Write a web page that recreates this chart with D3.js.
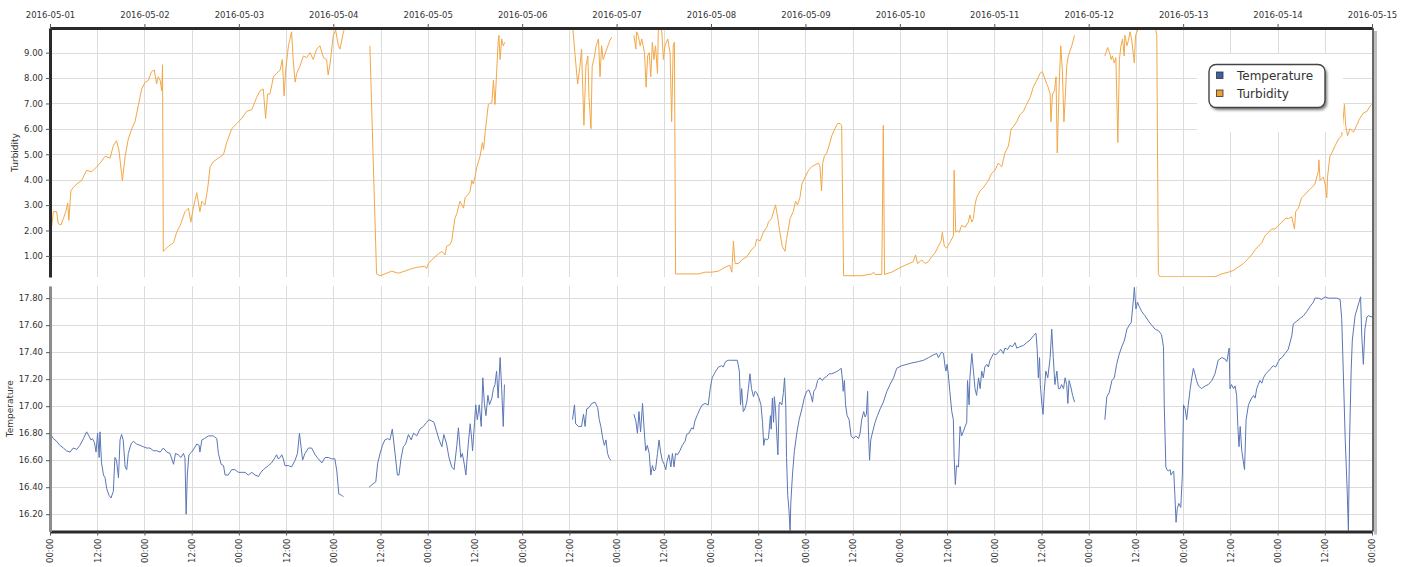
<!DOCTYPE html>
<html>
<head>
<meta charset="utf-8">
<script src="https://cdn.jsdelivr.net/npm/d3@7"></script>
<style>
  body { margin: 0; background: #fff; }
  svg text { font-family: "DejaVu Sans", sans-serif; fill: #333; }
</style>
</head>
<body>
<script>
// hours after 2016-05-01 00:00, value ; null = gap in the record
const turbidity = [
  [0.25,1.93],[0.85,2.74],[1.7,2.74],[2.1,2.27],[2.8,2.22],[3.4,2.47],[4.0,2.74],[4.5,3.08],[4.8,2.40],[5.3,3.56],
  [5.9,3.69],[6.8,3.83],[8.05,3.97],[9.3,4.37],[10.6,4.31],[11.9,4.51],[12.7,4.65],[14.0,4.92],[15.25,4.85],[16.1,5.33],
  [16.9,5.53],[17.5,5.19],[18.4,3.96],[19.1,4.92],[19.9,5.60],[20.8,6.01],[21.6,6.28],[22.5,6.96],[23.3,7.57],[24.2,7.84],
  [25.0,7.91],[25.8,8.25],[26.5,8.32],[27.1,7.77],[27.5,8.05],[28.0,7.91],[28.4,7.50],[28.6,8.52],[28.8,1.18],[29.2,1.24],
  [30.1,1.38],[31.4,1.52],[32.2,1.93],[33.1,2.20],[34.3,2.74],[35.2,2.88],[35.8,2.33],[36.4,2.88],[37.3,3.49],[38.1,2.74],
  [38.6,3.15],[39.4,3.01],[40.1,3.69],[40.7,4.51],[41.5,4.71],[42.8,4.85],[44.1,4.99],[44.9,5.46],[46.2,6.01],[47.5,6.21],
  [48.7,6.41],[50.0,6.69],[51.3,6.76],[52.5,7.23],[53.4,7.50],[54.2,7.57],[54.8,6.41],[55.3,7.37],[55.9,7.37],[56.8,8.05],
  [57.6,8.18],[58.5,8.32],[59.05,8.73],[59.5,7.30],[59.9,8.32],[60.6,9.27],[61.0,9.54],[61.4,9.82],[61.8,8.73],[62.3,7.84],
  [62.7,8.18],[63.5,8.46],[64.4,8.87],[65.2,8.80],[66.1,9.00],[66.9,8.73],[67.8,9.14],[68.6,9.27],[69.5,8.80],[70.3,8.73],
  [70.7,8.12],[71.2,8.59],[72.0,9.68],[72.6,9.88],[73.3,9.27],[73.7,9.14],[74.6,9.82],[75.0,10.02],
  null,
  [81.3,9.27],[83.0,0.29],[83.9,0.22],[85.1,0.29],[86.8,0.40],[88.5,0.32],[90.2,0.40],[91.9,0.50],[93.6,0.56],[95.3,0.59],
  [95.7,0.50],[96.2,0.70],[97.0,0.84],[98.7,1.08],[99.6,1.18],[100.4,1.04],[100.8,1.38],[101.7,1.45],[102.1,1.59],[102.9,2.47],
  [103.4,2.67],[104.2,3.15],[105.1,2.88],[105.5,3.29],[106.3,3.42],[106.8,3.56],[107.2,3.97],[107.6,3.83],[108.0,4.10],[108.5,4.51],
  [109.3,4.92],[109.9,5.46],[110.2,5.19],[110.6,5.87],[111.0,6.41],[111.4,6.96],[111.8,7.00],[112.3,7.03],[112.7,7.91],[113.1,6.96],
  [113.5,8.18],[113.9,9.41],[114.1,9.68],[114.4,8.73],[114.8,9.54],[115.2,9.27],[115.6,9.41],
  null,
  [132.8,10.09],[133.4,9.00],[134.1,7.77],[134.7,8.46],[135.1,9.14],[135.7,6.14],[136.2,8.46],[136.7,8.87],[137.0,7.23],[137.5,6.01],
  [137.8,8.46],[138.4,8.87],[138.8,9.27],[139.4,9.54],[139.8,8.05],[140.2,9.27],[140.6,8.73],[141.5,9.14],[142.3,9.48],[142.8,9.61],
  null,
  [148.4,9.68],[148.9,9.14],[149.1,9.82],[149.5,9.68],[150.0,9.27],[150.4,9.54],[151.1,9.00],[151.5,7.64],[151.9,8.87],[152.3,9.00],
  [152.7,8.05],[153.1,9.41],[153.5,8.73],[153.9,9.27],[154.4,8.18],[154.6,9.82],[155.0,10.09],[155.5,9.82],[155.9,8.73],[156.3,9.27],
  [157.0,9.54],[157.6,9.00],[158.0,6.28],[158.4,9.27],[158.7,9.41],[159.0,0.29],[161.4,0.29],[164.8,0.29],[166.5,0.36],[168.2,0.36],
  [169.9,0.40],[171.6,0.56],[172.8,0.63],[173.3,0.36],[173.7,1.59],[174.1,0.70],[175.0,0.70],[175.8,0.84],[177.1,0.97],[178.3,1.24],
  [179.2,1.38],[179.6,1.65],[180.5,1.59],[181.3,1.93],[182.2,2.13],[182.6,2.33],[183.4,2.47],[184.4,3.01],[185.0,2.47],[185.5,1.93],
  [186.1,1.38],[186.8,1.18],[187.2,1.65],[188.1,2.47],[188.9,2.74],[189.5,3.15],[190.0,3.01],[190.6,3.29],[191.1,3.83],[191.9,4.10],
  [192.8,4.37],[193.6,4.51],[194.4,4.58],[195.3,4.65],[195.7,4.51],[196.1,3.56],[196.4,4.65],[196.8,4.92],[197.4,5.05],[198.0,5.33],
  [198.7,5.73],[199.5,6.01],[200.2,6.21],[200.8,6.21],[201.2,6.14],[201.7,0.22],[206.3,0.22],[208.9,0.29],[209.3,0.36],[209.7,0.27],
  [211.4,0.27],[211.8,6.14],[212.1,0.27],[213.9,0.36],[215.6,0.50],[217.3,0.63],[219.4,0.77],[220.0,1.04],[220.5,0.70],[221.6,0.84],
  [222.4,0.70],[223.2,0.77],[224.1,0.97],[224.9,1.11],[225.8,1.38],[226.5,1.59],[226.8,1.93],[227.3,1.38],[227.9,1.31],[228.7,1.52],
  [229.6,1.79],[229.8,4.37],[230.2,1.93],[230.6,1.99],[231.1,1.93],[231.7,2.20],[232.6,2.13],[233.4,2.33],[233.8,2.61],[234.3,2.33],
  [234.7,2.47],[235.1,3.01],[235.5,3.29],[236.4,3.56],[237.2,3.69],[238.5,3.97],[239.3,4.24],[240.2,4.37],[241.0,4.65],[241.9,4.51],
  [242.3,4.78],[242.7,5.05],[243.6,5.33],[244.3,6.01],[244.8,6.07],[245.7,6.28],[246.5,6.55],[247.4,6.69],[248.2,6.96],[249.1,7.23],
  [249.9,7.64],[250.8,7.91],[251.6,8.18],[252.2,8.25],[252.7,8.05],[253.3,7.77],[253.7,7.64],[254.2,7.37],[254.4,6.28],[254.8,7.37],
  [255.3,7.50],[255.7,8.05],[256.0,5.05],[256.5,7.77],[256.9,9.27],[257.3,8.32],[257.7,6.28],[258.0,7.10],[258.4,8.46],[258.8,8.87],
  [259.7,9.27],[260.4,9.68],
  null,
  [268.1,8.87],[268.8,9.20],[269.3,9.00],[269.7,8.73],[270.0,8.87],[270.5,8.59],[270.9,8.80],[271.4,5.46],[271.8,8.73],[272.2,9.27],
  [272.6,9.54],[273.0,8.87],[273.2,9.68],[273.7,9.27],[274.1,9.48],[274.5,9.82],[274.9,9.54],[275.6,8.59],[275.9,9.68],[276.6,9.95],
  [277.5,10.02],[279.6,10.02],[280.9,10.02],[281.3,9.68],[281.7,0.29],[282.1,0.18],[286.8,0.18],[291.0,0.18],[296.1,0.18],[297.8,0.29],
  [299.5,0.36],[300.8,0.43],[302.0,0.56],[303.3,0.70],[304.6,0.90],[305.4,1.04],[306.3,1.24],[307.1,1.38],[308.0,1.52],[308.8,1.79],
  [309.7,1.93],[310.5,2.06],[311.4,2.06],[312.2,2.20],[313.1,2.33],[313.9,2.47],[314.8,2.47],[315.6,2.54],[316.3,2.06],[316.6,2.74],
  [317.3,2.88],[318.1,3.29],[319.0,3.42],[319.8,3.56],[320.7,3.69],[321.5,3.83],[322.4,4.37],[322.5,4.78],[322.8,3.97],[323.6,4.10],
  [324.1,3.83],[324.5,3.29],[324.7,4.10],[325.3,4.92],[325.8,5.05],[326.6,5.33],[327.5,5.60],[328.3,5.73],[329.0,6.96],[329.3,6.14],
  [329.8,5.73],[330.4,6.01],[331.3,5.87],[332.1,6.14],[332.9,6.41],[333.8,6.62],[334.7,6.69],[335.5,6.89],[335.9,6.96]
];

const temperature = [
  [0,16.80],[0.85,16.76],[1.7,16.74],[2.5,16.71],[3.4,16.69],[4.2,16.67],[5.1,16.66],[5.9,16.69],[6.8,16.68],[7.6,16.71],
  [8.5,16.76],[9.3,16.81],[9.9,16.78],[10.4,16.75],[10.8,16.76],[11.3,16.73],[11.7,16.66],[12.1,16.80],[12.5,16.62],[12.7,16.81],
  [13.1,16.58],[13.6,16.49],[14.0,16.47],[14.4,16.39],[15.0,16.34],[15.5,16.32],[16.1,16.37],[16.5,16.62],[16.9,16.60],[17.4,16.47],
  [17.8,16.75],[18.2,16.79],[18.6,16.75],[19.1,16.55],[19.5,16.53],[19.9,16.65],[20.6,16.72],[21.2,16.74],[22.0,16.72],[22.9,16.71],
  [23.7,16.70],[24.6,16.69],[25.4,16.69],[26.3,16.67],[27.1,16.67],[28.0,16.66],[28.8,16.69],[29.7,16.66],[30.5,16.65],[31.4,16.57],
  [31.9,16.65],[32.6,16.64],[33.3,16.62],[33.9,16.65],[34.3,16.62],[34.6,16.20],[34.9,16.49],[35.3,16.64],[36.0,16.66],[36.7,16.69],
  [37.3,16.72],[37.9,16.71],[38.1,16.66],[38.6,16.75],[39.2,16.76],[40.3,16.78],[41.5,16.78],[42.4,16.76],[42.8,16.65],[43.5,16.57],
  [44.1,16.56],[44.5,16.49],[45.3,16.49],[46.2,16.53],[47.0,16.53],[47.9,16.51],[48.7,16.51],[49.6,16.51],[50.4,16.49],[51.3,16.51],
  [52.1,16.49],[53.0,16.48],[53.6,16.51],[54.2,16.53],[55.5,16.56],[56.3,16.58],[57.2,16.62],[57.6,16.64],[58.0,16.61],[58.5,16.62],
  [58.9,16.64],[59.3,16.61],[59.7,16.56],[60.6,16.56],[61.4,16.55],[62.3,16.60],[62.9,16.65],[63.4,16.80],[63.8,16.70],[64.2,16.60],
  [64.8,16.65],[65.7,16.69],[66.5,16.69],[67.4,16.64],[68.2,16.61],[69.1,16.58],[69.9,16.62],[70.7,16.62],[71.6,16.61],[72.4,16.61],
  [72.9,16.52],[73.4,16.35],[74.1,16.34],[74.6,16.33],
  null,
  [81.1,16.40],[81.9,16.42],[82.8,16.44],[83.3,16.58],[83.9,16.65],[84.5,16.71],[85.1,16.75],[85.8,16.76],[86.4,16.75],[87.0,16.83],
  [87.7,16.65],[88.3,16.49],[88.7,16.49],[89.2,16.61],[89.8,16.70],[90.4,16.72],[91.1,16.79],[91.8,16.75],[92.4,16.80],[93.2,16.78],
  [94.0,16.83],[94.9,16.85],[95.7,16.88],[96.3,16.90],[97.0,16.89],[97.6,16.88],[98.3,16.81],[98.9,16.75],[99.6,16.70],[100.1,16.79],
  [100.8,16.72],[101.4,16.62],[102.1,16.55],[102.7,16.53],[103.4,16.71],[103.8,16.84],[104.4,16.62],[104.8,16.65],[105.3,16.57],[105.7,16.49],
  [106.3,16.72],[106.8,16.87],[107.2,16.75],[107.4,16.67],[107.9,16.88],[108.2,17.01],[108.6,16.90],[109.1,17.01],[109.6,16.85],[110.0,17.21],
  [110.4,17.02],[110.8,16.93],[111.3,17.08],[111.7,17.01],[112.3,17.06],[112.7,17.13],[113.1,17.16],[113.5,17.26],[113.9,17.06],[114.4,17.36],
  [114.8,17.13],[115.2,16.85],[115.5,17.16],
  null,
  [132.8,16.90],[133.3,17.01],[133.6,16.87],[134.3,16.85],[135.1,16.85],[135.6,16.94],[136.0,16.85],[136.4,16.98],[137.0,16.99],[137.7,17.02],
  [138.5,17.03],[139.2,16.99],[139.6,16.90],[140.0,16.85],[140.5,16.76],[140.9,16.71],[141.3,16.75],[141.7,16.65],[142.2,16.61],[142.6,16.60],
  null,
  [148.4,16.94],[148.9,16.89],[149.3,16.80],[149.7,16.96],[150.1,16.81],[150.6,17.02],[151.0,16.83],[151.4,16.67],[151.8,16.71],[152.3,16.65],
  [152.7,16.49],[153.1,16.56],[153.5,16.52],[153.9,16.53],[154.4,16.65],[154.8,16.75],[155.2,16.66],[155.6,16.60],[156.1,16.57],[156.5,16.53],
  [156.9,16.60],[157.3,16.64],[157.8,16.55],[158.2,16.65],[158.6,16.55],[159.0,16.65],[159.5,16.64],[160.1,16.67],[160.7,16.71],[161.4,16.74],
  [161.8,16.79],[162.4,16.80],[163.1,16.84],[163.5,16.83],[163.9,16.89],[164.6,16.94],[165.2,16.98],[165.8,17.01],[166.5,17.02],[167.3,17.01],
  [167.8,17.13],[168.3,17.21],[169.0,17.25],[169.9,17.29],[170.7,17.30],[171.1,17.29],[171.7,17.33],[172.4,17.34],[173.3,17.34],[174.1,17.34],
  [174.7,17.34],[175.2,17.26],[175.5,17.01],[175.8,17.13],[176.2,16.96],[176.6,16.98],[177.1,17.03],[177.5,17.13],[177.9,17.24],[178.3,17.13],
  [178.8,17.07],[179.2,17.11],[179.6,17.10],[180.2,17.06],[180.7,17.01],[181.1,16.88],[181.4,16.71],[181.7,16.76],[182.2,16.75],[182.6,16.76],
  [183.1,16.93],[183.3,16.83],[183.6,17.06],[183.9,16.88],[184.1,17.07],[184.4,16.98],[184.7,16.80],[185.0,16.64],[185.3,17.01],[185.5,17.03],
  [186.0,17.01],[186.4,17.10],[186.7,17.21],[187.0,17.01],[187.2,16.62],[187.5,16.34],[187.8,16.24],[188.1,16.08],[188.3,16.29],[188.7,16.49],
  [189.2,16.67],[189.8,16.80],[190.4,16.90],[191.1,16.98],[191.7,17.06],[192.3,17.11],[192.9,17.12],[193.4,17.08],[193.8,17.03],[194.1,17.11],
  [194.6,17.13],[195.1,17.19],[195.7,17.21],[196.3,17.19],[196.8,17.21],[197.4,17.22],[198.0,17.24],[198.7,17.24],[199.5,17.25],[200.2,17.26],
  [201.1,17.28],[201.4,17.20],[201.6,17.11],[201.9,17.19],[202.2,17.01],[202.6,16.93],[203.1,16.90],[203.6,16.78],[204.2,16.76],[204.8,16.78],
  [205.5,16.76],[205.9,16.80],[206.3,16.90],[206.8,16.96],[207.2,16.92],[207.5,16.94],[207.8,17.11],[208.0,16.83],[208.3,16.60],[208.6,16.75],
  [209.0,16.80],[209.7,16.88],[210.3,16.93],[211.0,16.98],[211.8,17.03],[212.7,17.11],[213.5,17.16],[214.4,17.21],[215.2,17.28],[216.5,17.30],
  [217.8,17.31],[219.0,17.32],[220.7,17.33],[222.0,17.34],[223.3,17.36],[224.5,17.38],[225.4,17.39],[225.8,17.36],[226.2,17.38],[226.6,17.40],
  [227.1,17.39],[227.5,17.29],[227.7,17.26],[228.0,17.31],[228.3,17.24],[228.7,17.11],[229.2,16.96],[229.6,16.90],[229.8,16.62],[230.1,16.42],
  [230.4,16.56],[230.9,16.55],[231.3,16.85],[231.7,16.78],[232.1,16.81],[232.6,16.85],[233.0,16.88],[233.2,17.19],[233.6,17.01],[233.8,17.21],
  [234.3,17.39],[234.7,17.26],[235.1,17.13],[235.5,17.08],[236.0,17.21],[236.4,17.13],[236.8,17.26],[237.2,17.21],[237.6,17.29],[238.1,17.31],
  [238.5,17.29],[238.9,17.34],[239.8,17.39],[240.4,17.38],[241.0,17.40],[241.7,17.42],[242.3,17.39],[242.7,17.43],[243.4,17.42],[244.0,17.45],
  [244.6,17.44],[245.3,17.47],[245.7,17.43],[246.5,17.44],[247.4,17.45],[248.2,17.47],[249.1,17.49],[249.9,17.52],[250.6,17.54],[250.9,17.42],
  [251.2,17.21],[251.5,17.36],[251.7,17.16],[252.1,17.01],[252.4,16.94],[252.7,17.11],[253.1,17.26],[253.6,17.21],[254.2,17.36],[254.6,17.57],
  [255.0,17.36],[255.4,17.16],[255.9,17.26],[256.3,17.13],[256.7,17.13],[257.1,17.16],[257.6,17.13],[258.0,17.21],[258.4,17.16],[258.7,17.02],
  [259.0,17.19],[259.4,17.15],[259.9,17.08],[260.4,17.03],
  null,
  [268.1,16.90],[268.6,17.07],[269.2,17.10],[269.9,17.19],[270.5,17.21],[271.1,17.31],[271.7,17.38],[272.4,17.44],[273.1,17.49],[273.7,17.57],
  [274.3,17.60],[274.8,17.62],[275.4,17.80],[275.6,17.88],[276.0,17.72],[276.4,17.77],[276.8,17.74],[277.5,17.70],[278.3,17.67],[279.2,17.63],
  [280.0,17.60],[280.9,17.57],[281.7,17.56],[282.5,17.53],[283.0,17.44],[283.2,17.01],[283.6,16.55],[283.9,16.53],[284.2,16.52],[284.7,16.53],
  [284.9,16.49],[285.3,16.51],[285.6,16.52],[285.9,16.34],[286.2,16.14],[286.5,16.24],[286.9,16.28],[287.4,16.25],[287.8,16.49],[288.1,17.01],
  [288.5,16.98],[288.9,16.90],[289.3,17.01],[289.8,17.13],[290.2,17.21],[290.6,17.28],[291.0,17.24],[291.4,17.19],[291.9,17.15],[292.7,17.13],
  [293.6,17.15],[294.4,17.16],[295.3,17.19],[296.1,17.24],[296.9,17.34],[297.8,17.36],[298.6,17.35],[299.1,17.33],[299.7,17.43],[299.9,17.13],
  [300.3,17.16],[300.8,17.13],[301.2,17.15],[301.6,17.08],[301.9,16.85],[302.2,16.70],[302.5,16.85],[302.9,16.67],[303.6,16.53],[304.0,16.90],
  [304.6,17.01],[305.4,17.06],[305.9,17.08],[306.3,17.06],[306.7,17.13],[307.1,17.16],[307.5,17.19],[308.0,17.17],[308.4,17.21],[309.0,17.24],
  [309.7,17.26],[310.3,17.28],[310.9,17.30],[311.5,17.29],[312.2,17.33],[312.6,17.35],[313.1,17.36],[313.9,17.39],[314.7,17.42],[315.6,17.52],
  [316.0,17.61],[316.9,17.63],[317.7,17.65],[318.6,17.67],[319.4,17.70],[320.3,17.74],[321.1,17.77],[321.5,17.80],[322.4,17.80],[323.2,17.79],
  [324.1,17.81],[324.9,17.80],[325.8,17.80],[327.0,17.80],[327.9,17.79],[328.3,17.65],[328.7,17.26],[329.2,16.75],[329.7,16.37],[330.0,16.08],
  [330.3,16.75],[330.7,17.26],[331.0,17.49],[331.7,17.67],[332.2,17.72],[332.7,17.77],[333.1,17.81],[333.4,17.52],[333.8,17.31],[334.2,17.57],
  [334.7,17.66],[335.1,17.67],[336.0,17.66]
];

const turbTicks = [1, 2, 3, 4, 5, 6, 7, 8, 9];
const tempTicks = [16.2, 16.4, 16.6, 16.8, 17.0, 17.2, 17.4, 17.6, 17.8];
const seriesNames = ["Temperature", "Turbidity"];
const seriesColors = ["#5a76b6", "#f3a747"];
const legendColors = ["#3d5ea8", "#f0a032"];

const w = 1413, h = 567;
const left = 50, right = 1372;
const turbTop = 28, turbBottom = 277;
const tempTop = 286, tempBottom = 531.5;

const start = Date.UTC(2016, 4, 1);
const toDate = hr => new Date(start + hr * 3600e3);

const x = d3.scaleUtc().domain([toDate(0), toDate(336)]).range([left, right]);
const yTurb = d3.scaleLinear().domain([0.17, 9.97]).range([turbBottom, turbTop]);
const yTemp = d3.scaleLinear().domain([16.072, 17.89]).range([tempBottom, tempTop]);

const svg = d3.select("body").append("svg")
    .attr("width", w)
    .attr("height", h);

const defs = svg.append("defs");
defs.append("clipPath").attr("id", "clip-turb")
    .append("rect").attr("x", left).attr("y", turbTop)
    .attr("width", right - left).attr("height", turbBottom - turbTop);
defs.append("clipPath").attr("id", "clip-temp")
    .append("rect").attr("x", left).attr("y", tempTop)
    .attr("width", right - left).attr("height", tempBottom - tempTop);
const shadow = defs.append("filter").attr("id", "shadow")
    .attr("x", "-20%").attr("y", "-30%").attr("width", "140%").attr("height", "170%");
shadow.append("feGaussianBlur").attr("stdDeviation", 1.6);

const halfDays = x.ticks(d3.utcHour.every(12));

// grid for each panel
function grid(yScale, ticks, y0, y1) {
    const g = svg.append("g").attr("stroke", "#dcdcdc").attr("stroke-width", 1);
    g.selectAll(".v").data(halfDays).join("line")
        .attr("x1", d => Math.round(x(d)) + 0.5).attr("x2", d => Math.round(x(d)) + 0.5)
        .attr("y1", y0).attr("y2", y1);
    g.selectAll(".hz").data(ticks).join("line")
        .attr("x1", left).attr("x2", right)
        .attr("y1", d => Math.round(yScale(d)) + 0.5).attr("y2", d => Math.round(yScale(d)) + 0.5);
}
grid(yTurb, turbTicks, turbTop, turbBottom);
grid(yTemp, tempTicks, tempTop, tempBottom);

const lineOf = yScale => d3.line()
    .defined(d => d !== null)
    .x(d => x(toDate(d[0])))
    .y(d => yScale(d[1]));

svg.append("path")
    .datum(turbidity)
    .attr("clip-path", "url(#clip-turb)")
    .attr("fill", "none")
    .attr("stroke", seriesColors[1])
    .attr("stroke-width", 1)
    .attr("d", lineOf(yTurb));

svg.append("path")
    .datum(temperature)
    .attr("clip-path", "url(#clip-temp)")
    .attr("fill", "none")
    .attr("stroke", seriesColors[0])
    .attr("stroke-width", 1)
    .attr("d", lineOf(yTemp));

// right-hand frame with its shadow
svg.append("line").attr("x1", right + 3.5).attr("x2", right + 3.5)
    .attr("y1", turbTop + 3).attr("y2", tempBottom + 3)
    .attr("stroke", "#bdbdbd").attr("stroke-width", 3);
svg.append("line").attr("x1", right + 1).attr("x2", right + 1)
    .attr("y1", turbTop).attr("y2", tempBottom)
    .attr("stroke", "#666").attr("stroke-width", 2);

// top date axis
const topAxis = svg.append("g")
    .attr("transform", `translate(0,${turbTop})`)
    .call(d3.axisTop(x).ticks(d3.utcDay.every(1))
        .tickFormat(d3.utcFormat("%Y-%m-%d")).tickSize(4).tickSizeOuter(0).tickPadding(6));

// bottom hour axis
const bottomAxis = svg.append("g")
    .attr("transform", `translate(0,${tempBottom})`)
    .call(d3.axisBottom(x).ticks(d3.utcHour.every(12))
        .tickFormat(d3.utcFormat("%H:%M")).tickSize(4).tickSizeOuter(0));
bottomAxis.selectAll("text")
    .attr("transform", "rotate(-90)")
    .attr("x", -7).attr("y", 0).attr("dy", "0.35em")
    .style("text-anchor", "end");

const turbAxis = svg.append("g")
    .attr("transform", `translate(${left},0)`)
    .call(d3.axisLeft(yTurb).tickValues(turbTicks).tickFormat(d3.format(".2f"))
        .tickSize(4).tickSizeOuter(0).tickPadding(3));

const tempAxis = svg.append("g")
    .attr("transform", `translate(${left},0)`)
    .call(d3.axisLeft(yTemp).tickValues(tempTicks).tickFormat(d3.format(".2f"))
        .tickSize(4).tickSizeOuter(0).tickPadding(3));

[topAxis, bottomAxis, turbAxis, tempAxis].forEach(a => {
    a.selectAll("text").style("font-size", "8.5px").style("font-family", "DejaVu Sans").attr("fill", "#333");
    a.selectAll(".tick line").attr("stroke", "#555");
    a.select(".domain").attr("stroke", "#2a2a2a").attr("stroke-width", 3);
});
tempAxis.select(".domain").attr("stroke", "#8c8c8c");

// axis titles
svg.append("text")
    .attr("transform", `translate(15,${(turbTop + turbBottom) / 2}) rotate(-90)`)
    .attr("text-anchor", "middle").attr("dy", "0.35em")
    .style("font-size", "9px")
    .text("Turbidity");
svg.append("text")
    .attr("transform", `translate(10,${(tempTop + tempBottom) / 2}) rotate(-90)`)
    .attr("text-anchor", "middle").attr("dy", "0.35em")
    .style("font-size", "9px")
    .text("Temperature");

// legend
const legend = svg.append("g");
legend.append("rect")
    .attr("x", 1197).attr("y", 54).attr("width", 146).attr("height", 78)
    .attr("fill", "#fff");
legend.append("rect")
    .attr("x", 1211).attr("y", 67).attr("width", 116).attr("height", 43).attr("rx", 7)
    .attr("fill", "#777").attr("filter", "url(#shadow)");
legend.append("rect")
    .attr("x", 1209).attr("y", 64.5).attr("width", 116).attr("height", 43).attr("rx", 7)
    .attr("fill", "#fff").attr("stroke", "#444").attr("stroke-width", 1.4);
legend.selectAll(".sw").data(seriesNames).join("rect")
    .attr("x", 1216.5).attr("y", (d, i) => 72 + i * 18)
    .attr("width", 6.5).attr("height", 6.5)
    .attr("fill", (d, i) => legendColors[i])
    .attr("stroke", "#333").attr("stroke-width", 0.8);
legend.selectAll(".lbl").data(seriesNames).join("text")
    .attr("x", 1237).attr("y", (d, i) => 79.5 + i * 18)
    .style("font-size", "12px")
    .attr("fill", "#222")
    .text(d => d);
</script>
</body>
</html>
